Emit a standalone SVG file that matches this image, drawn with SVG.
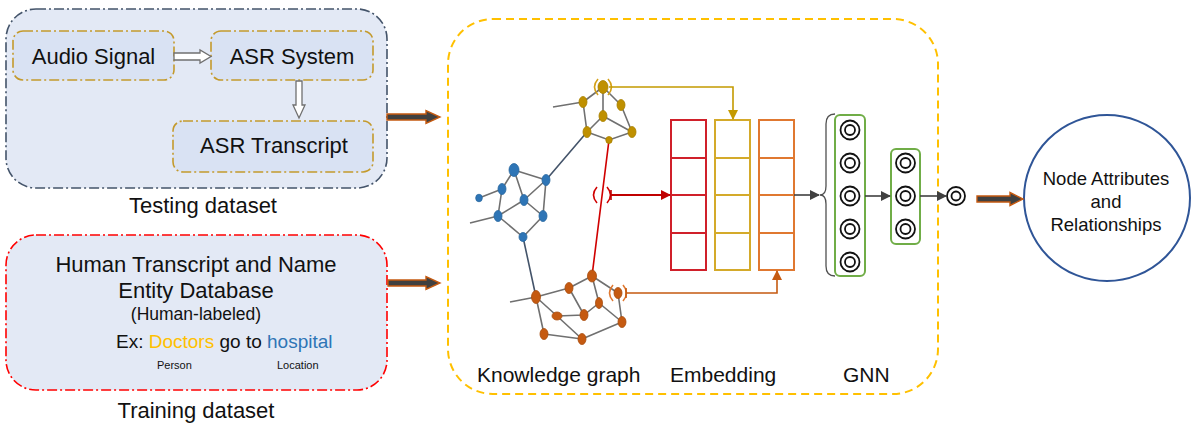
<svg xmlns="http://www.w3.org/2000/svg" width="1196" height="429" viewBox="0 0 1196 429">
<defs>
<style>
text{font-family:"Liberation Sans",Arial,sans-serif;fill:#111}
.dd-navy{fill:#e3e9f5;stroke:#44546a;stroke-width:1.6;stroke-dasharray:10 3 2 3}
.dd-gold{fill:#d9e2f3;stroke:#c49a2c;stroke-width:1.6;stroke-dasharray:10 3 2 3}
.dd-red{fill:#e3e9f5;stroke:#ff0000;stroke-width:1.6;stroke-dasharray:10 3 2 3}
.hollow{fill:#ffffff;stroke:#707070;stroke-width:1.3}
.thick{fill:#404040;stroke:#c55a11;stroke-width:1.4}
.e{stroke:#707070;stroke-width:1.6;fill:none}
.link{stroke:#44546a;stroke-width:1.6;fill:none}
.ng{fill:#bf9000;stroke:#a88000;stroke-width:0.8}
.nb{fill:#2e75b6;stroke:#2a68a0;stroke-width:0.8}
.no{fill:#c55a11;stroke:#a84c0e;stroke-width:0.8}
.cell{fill:none;stroke-width:2}
.gbox{fill:#ffffff;stroke:#70ad47;stroke-width:2}
.ring{fill:#ffffff;stroke:#111;stroke-width:1.8}
</style>
<marker id="ah-red" markerWidth="10" markerHeight="10" refX="9" refY="5" orient="auto" markerUnits="userSpaceOnUse"><path d="M0,0 L10,5 L0,10 Z" fill="#c00000"/></marker>
<marker id="ah-gold" markerWidth="10" markerHeight="10" refX="9" refY="5" orient="auto" markerUnits="userSpaceOnUse"><path d="M0,0 L10,5 L0,10 Z" fill="#c49a00"/></marker>
<marker id="ah-orange" markerWidth="10" markerHeight="10" refX="9" refY="5" orient="auto" markerUnits="userSpaceOnUse"><path d="M0,0 L10,5 L0,10 Z" fill="#c55a11"/></marker>
<marker id="ah-gray" markerWidth="10" markerHeight="10" refX="9" refY="5" orient="auto" markerUnits="userSpaceOnUse"><path d="M0,0 L10,5 L0,10 Z" fill="#404040"/></marker>
</defs>

<g id="testing-dataset">
<rect class="dd-navy" x="6" y="9" width="381" height="179" rx="30"/>
<text x="203" y="213" font-size="22" text-anchor="middle">Testing dataset</text>
</g>
<g id="audio-signal">
<rect class="dd-gold" x="13" y="31" width="161" height="49" rx="10"/>
<text x="93.5" y="64" font-size="22" text-anchor="middle">Audio Signal</text>
</g>
<g id="asr-system">
<rect class="dd-gold" x="211" y="31" width="162" height="49" rx="10"/>
<text x="292" y="64" font-size="22" text-anchor="middle">ASR System</text>
</g>
<g id="asr-transcript">
<rect class="dd-gold" x="173" y="121" width="200" height="51" rx="10"/>
<text x="274" y="153" font-size="22" text-anchor="middle">ASR Transcript</text>
</g>

<g id="training-dataset">
<rect class="dd-red" x="6" y="235" width="381" height="155" rx="30"/>
<text x="196" y="272" font-size="22" text-anchor="middle">Human Transcript and Name</text>
<text x="196" y="298" font-size="22" text-anchor="middle">Entity Database</text>
<text x="196" y="320" font-size="17.5" text-anchor="middle">(Human-labeled)</text>
<text x="116" y="348" font-size="19">Ex: <tspan fill="#ffc000">Doctors</tspan> go to <tspan fill="#2e75b6">hospital</tspan></text>
<text x="157" y="369" font-size="11">Person</text>
<text x="277" y="369" font-size="11">Location</text>
<text x="196" y="418" font-size="22" text-anchor="middle">Training dataset</text>
</g>

<g id="pipeline">
<rect x="448" y="19" width="490" height="375" rx="45" fill="none" stroke="#ffc000" stroke-width="2" stroke-dasharray="8 5"/>
<text x="477" y="382" font-size="21">Knowledge graph</text>
<text x="670" y="382" font-size="21">Embedding</text>
<text x="843" y="382" font-size="21">GNN</text>
</g>

<g id="knowledge-graph">
<path class="e" d="M603,87 L583,102 M603,87 L603,116 M603,87 L621,105 M583,102 L587,132 M603,116 L587,132 M603,116 L632,132 M621,105 L632,132 M587,132 L609,140 L632,132 M583,102 L553,107"/>
<path class="e" d="M514,170 L546,180 M514,170 L502,189 M514,170 L524,200 M502,189 L479,198 M502,189 L498,216 M524,200 L498,216 M524,200 L546,180 M546,180 L543,216 M524,200 L543,216 M498,216 L523,237 M543,216 L523,237 M498,216 L470,223"/>
<path class="e" d="M536,297 L569,288 M569,288 L592,276 M592,276 L599,303 M592,276 L618,293 M618,293 L622,322 M569,288 L584,315 M599,303 L584,315 M599,303 L622,322 M536,297 L557,316 M557,316 L584,315 M557,316 L582,339 M536,297 L544,334 M544,334 L582,339 M582,339 L622,322 M536,297 L510,302"/>
<path class="link" d="M587,132 L546,180 M523,237 L536,297"/>
<path d="M609,140 L592,276" stroke="#d00000" stroke-width="1.6" fill="none"/>
<ellipse class="ng" cx="603" cy="87" rx="5" ry="6.5"/>
<ellipse class="ng" cx="583" cy="102" rx="4" ry="5.5"/>
<ellipse class="ng" cx="621" cy="105" rx="4" ry="5.5"/>
<ellipse class="ng" cx="603" cy="116" rx="4" ry="5.5"/>
<ellipse class="ng" cx="587" cy="132" rx="4" ry="5.5"/>
<ellipse class="ng" cx="632" cy="132" rx="4" ry="5.5"/>
<ellipse class="ng" cx="609" cy="140" rx="3.2" ry="3.5"/>
<ellipse class="nb" cx="514" cy="170" rx="5" ry="6.5"/>
<ellipse class="nb" cx="546" cy="180" rx="4" ry="5.5"/>
<ellipse class="nb" cx="502" cy="189" rx="4" ry="5.5"/>
<ellipse class="nb" cx="479" cy="198" rx="3.3" ry="3.8"/>
<ellipse class="nb" cx="524" cy="200" rx="4" ry="5.5"/>
<ellipse class="nb" cx="498" cy="216" rx="4" ry="5.5"/>
<ellipse class="nb" cx="543" cy="216" rx="4" ry="5.5"/>
<ellipse class="nb" cx="523" cy="237" rx="4" ry="4.5"/>
<ellipse class="no" cx="536" cy="297" rx="4.5" ry="6.5"/>
<ellipse class="no" cx="569" cy="288" rx="4" ry="5.5"/>
<ellipse class="no" cx="592" cy="276" rx="4.5" ry="6"/>
<ellipse class="no" cx="618" cy="293" rx="4" ry="5.5"/>
<ellipse class="no" cx="599" cy="303" rx="3.5" ry="5.5"/>
<ellipse class="no" cx="557" cy="316" rx="5" ry="4"/>
<ellipse class="no" cx="584" cy="315" rx="4" ry="5.5"/>
<ellipse class="no" cx="622" cy="322" rx="4" ry="5.5"/>
<ellipse class="no" cx="544" cy="334" rx="4" ry="5.5"/>
<ellipse class="no" cx="582" cy="339" rx="4" ry="5.5"/>
<path d="M598,79 Q591,87 598,95 M608,79 Q615,87 608,95" stroke="#d4a017" stroke-width="1.6" fill="none"/>
<path d="M597,187 Q590,195 597,203 M607,187 Q614,195 607,203" stroke="#d00000" stroke-width="1.6" fill="none"/>
<path d="M613,285 Q606,293 613,301 M623,285 Q630,293 623,301" stroke="#e07830" stroke-width="1.6" fill="none"/>
</g>

<g id="embedding">
<g stroke="#d0202a" fill="none" stroke-width="2">
<rect x="671" y="120" width="35" height="150"/>
<path d="M671,158 H706 M671,195 H706 M671,233 H706"/>
</g>
<g stroke="#d4aa2a" fill="none" stroke-width="2">
<rect x="715" y="120" width="35" height="150"/>
<path d="M715,158 H750 M715,195 H750 M715,233 H750"/>
</g>
<g stroke="#e07830" fill="none" stroke-width="2">
<rect x="759" y="120" width="35" height="150"/>
<path d="M759,158 H794 M759,195 H794 M759,233 H794"/>
</g>
</g>

<g id="gnn">
<path d="M835,114 Q826,114 826,124 L826,186 Q826,195 820,195 Q826,195 826,204 L826,266 Q826,276 835,276" fill="none" stroke="#505050" stroke-width="1.3"/>
<rect class="gbox" x="835" y="115" width="30" height="161" rx="5"/>
<g>
<circle class="ring" cx="850" cy="130" r="9.5"/><circle class="ring" cx="850" cy="130" r="5"/>
<circle class="ring" cx="850" cy="163" r="9.5"/><circle class="ring" cx="850" cy="163" r="5"/>
<circle class="ring" cx="850" cy="196" r="9.5"/><circle class="ring" cx="850" cy="196" r="5"/>
<circle class="ring" cx="850" cy="229" r="9.5"/><circle class="ring" cx="850" cy="229" r="5"/>
<circle class="ring" cx="850" cy="262" r="9.5"/><circle class="ring" cx="850" cy="262" r="5"/>
</g>
<rect class="gbox" x="891" y="149" width="29" height="95" rx="5"/>
<g>
<circle class="ring" cx="905.5" cy="163" r="9.5"/><circle class="ring" cx="905.5" cy="163" r="5"/>
<circle class="ring" cx="905.5" cy="196" r="9.5"/><circle class="ring" cx="905.5" cy="196" r="5"/>
<circle class="ring" cx="905.5" cy="229" r="9.5"/><circle class="ring" cx="905.5" cy="229" r="5"/>
</g>
<circle class="ring" cx="956" cy="196" r="9"/><circle class="ring" cx="956" cy="196" r="4.5"/>
</g>

<g id="node-attributes">
<circle cx="1107" cy="198" r="83" fill="#ffffff" stroke="#2f5597" stroke-width="2"/>
<text x="1106" y="185" font-size="18.5" text-anchor="middle">Node Attributes</text>
<text x="1106" y="208" font-size="18.5" text-anchor="middle">and</text>
<text x="1106" y="231" font-size="18.5" text-anchor="middle">Relationships</text>
</g>

<g id="connectors">
<polygon class="hollow" points="174,53 200,53 200,50 211,56.5 200,63 200,60 174,60"/>
<polygon class="hollow" points="296,81 296,105 293,105 299,118 305,105 302,105 302,81"/>
<polygon class="thick" points="387,114 426,114 426,110.5 440,117 426,123.5 426,120 387,120"/>
<polygon class="thick" points="388,280 426,280 426,276.5 440,283 426,289.5 426,286 388,286"/>
<polygon class="thick" points="977,196 1010,196 1010,192.5 1023,199 1010,205.5 1010,202 977,202"/>
<path d="M609,87 H733 V119" fill="none" stroke="#c49a00" stroke-width="1.6" marker-end="url(#ah-gold)"/>
<path d="M611,195 H670" fill="none" stroke="#c00000" stroke-width="1.8" marker-end="url(#ah-red)"/>
<path d="M611,190 V200" stroke="#c00000" stroke-width="1.6"/>
<path d="M626,293 H777 V271" fill="none" stroke="#c55a11" stroke-width="1.6" marker-end="url(#ah-orange)"/>
<path d="M626,288 V298" stroke="#c55a11" stroke-width="1.6"/>
<path d="M794,195 H819" fill="none" stroke="#404040" stroke-width="1.6" marker-end="url(#ah-gray)"/>
<path d="M865,196 H890" fill="none" stroke="#404040" stroke-width="1.6" marker-end="url(#ah-gray)"/>
<path d="M920,196 H946" fill="none" stroke="#404040" stroke-width="1.6" marker-end="url(#ah-gray)"/>
</g>
</svg>
